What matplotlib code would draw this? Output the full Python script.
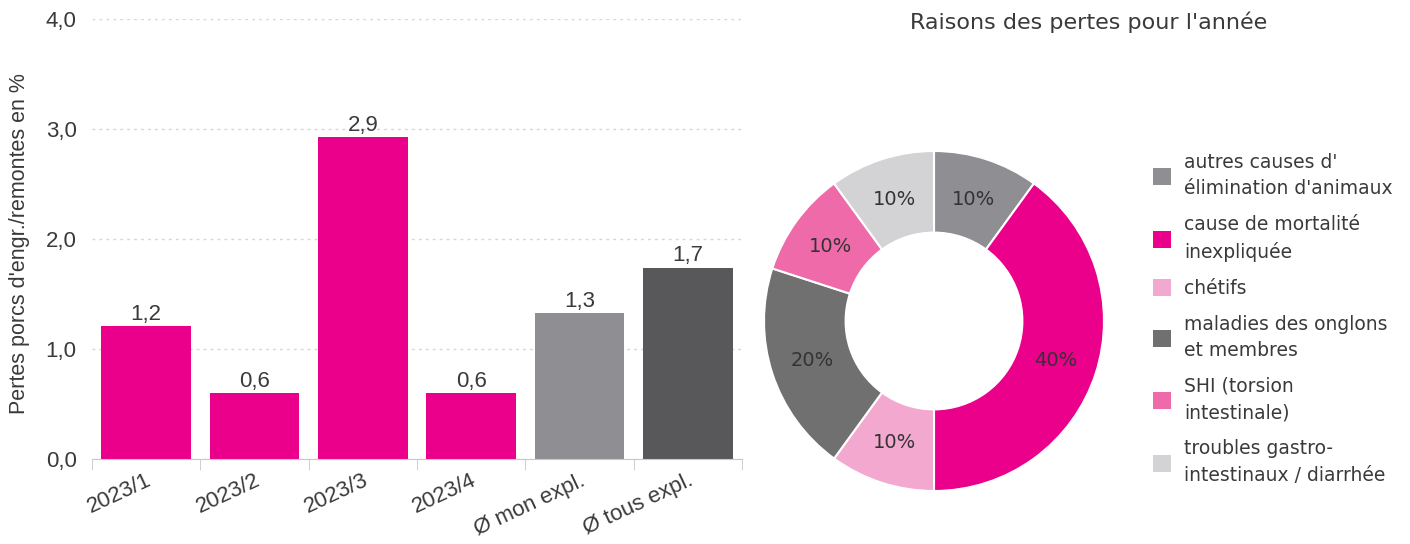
import matplotlib
matplotlib.use("Agg")
import matplotlib.pyplot as plt
from matplotlib.patches import Patch
from matplotlib.transforms import ScaledTranslation

# bar chart data
periods = ["2023/1", "2023/2", "2023/3", "2023/4", "Ø mon expl.", "Ø tous expl."]
losses = [1.21, 0.6, 2.93, 0.6, 1.33, 1.74]
bar_colors = ["#ea008a", "#ea008a", "#ea008a", "#ea008a", "#8e8e93", "#58585a"]
yticks = [0, 1, 2, 3, 4]

# donut data
causes = ["autres causes d'\nélimination d'animaux",
          "cause de mortalité\ninexpliquée",
          "chétifs",
          "maladies des onglons\net membres",
          "SHI (torsion\nintestinale)",
          "troubles gastro-\nintestinaux / diarrhée"]
shares = [10, 40, 10, 20, 10, 10]
cause_colors = ["#8e8e93", "#ea008a", "#f3a8cf", "#707070", "#ee6aa8", "#d3d3d6"]

TEXT = "#3a3a3a"
plt.rcParams["font.family"] = ["Liberation Sans", "DejaVu Sans"]


def fr(v):
    return f"{v:.1f}".replace(".", ",")


fig = plt.figure(figsize=(14.1, 5.44), dpi=100)

# --- bars ---
ax = fig.add_axes([92 / 1410, 85 / 544, 650 / 1410, 440 / 544])
x = range(len(periods))
bars = ax.bar(x, losses, width=0.83, color=bar_colors)
for b, v in zip(bars, losses):
    ax.text(b.get_x() + b.get_width() / 2, v + 0.01, fr(v),
            ha="center", va="bottom", fontsize=16, color=TEXT)
ax.set_xlim(-0.5, len(periods) - 0.5)
ax.set_ylim(0, 4)
ax.set_yticks(yticks)
ax.set_yticklabels([fr(t) for t in yticks])
ax.tick_params(axis="y", length=0, labelsize=16, labelcolor=TEXT, pad=11)
ax.set_xticks(list(x))
ax.set_xticklabels(periods, rotation=25, ha="right", rotation_mode="anchor",
                   fontsize=16, color=TEXT)
shift = ScaledTranslation(8 / 100, 0, fig.dpi_scale_trans)
for lbl in ax.get_xticklabels():
    lbl.set_transform(lbl.get_transform() + shift)
ax.tick_params(axis="x", length=0, pad=8)
ax.set_xticks([i - 0.5 for i in range(len(periods) + 1)], minor=True)
ax.tick_params(axis="x", which="minor", length=8, color="#c8c8c8")
ax.grid(axis="y", color="#d6d6d6", ls=(0, (2, 3)), lw=1)
ax.set_axisbelow(True)
for s in ("top", "right", "left"):
    ax.spines[s].set_visible(False)
ax.spines["bottom"].set_color("#c8c8c8")
ax.set_ylabel("Pertes porcs d'engr./remontes en %", fontsize=15.5, color=TEXT)
ax.yaxis.set_label_coords(-0.095, 0.49)

# --- donut ---
ax2 = fig.add_axes([764 / 1410, 53 / 544, 340 / 1410, 340 / 544])
wedges, texts = ax2.pie(shares, colors=cause_colors, startangle=90, counterclock=False,
                        radius=1.0, wedgeprops=dict(width=0.48, edgecolor="white", lw=1.5),
                        labels=[f"{s}%" for s in shares], labeldistance=0.75,
                        textprops=dict(fontsize=14, color="#333333", family="DejaVu Sans"))
for t in texts:
    t.set_ha("center")
    t.set_va("center")
ax2.set_xlim(-1, 1)
ax2.set_ylim(-1, 1)
ax2.set_aspect("equal")

fig.text(1089 / 1410, 1 - 22 / 544, "Raisons des pertes pour l'année", ha="center", va="center",
         fontsize=16, color=TEXT, family="DejaVu Sans")

handles = [Patch(facecolor=c, edgecolor="none") for c in cause_colors]
leg = fig.legend(handles, causes, loc="upper left", bbox_to_anchor=(1145 / 1410, 1 - 145 / 544),
                 frameon=False, prop=dict(family="DejaVu Sans", size=13.5), labelcolor=TEXT,
                 handlelength=1.0, handleheight=1.0, handletextpad=0.7, labelspacing=0.9,
                 borderaxespad=0)
for t in leg.get_texts():
    t.set_linespacing(1.5)

fig.savefig("out.png", dpi=100)
